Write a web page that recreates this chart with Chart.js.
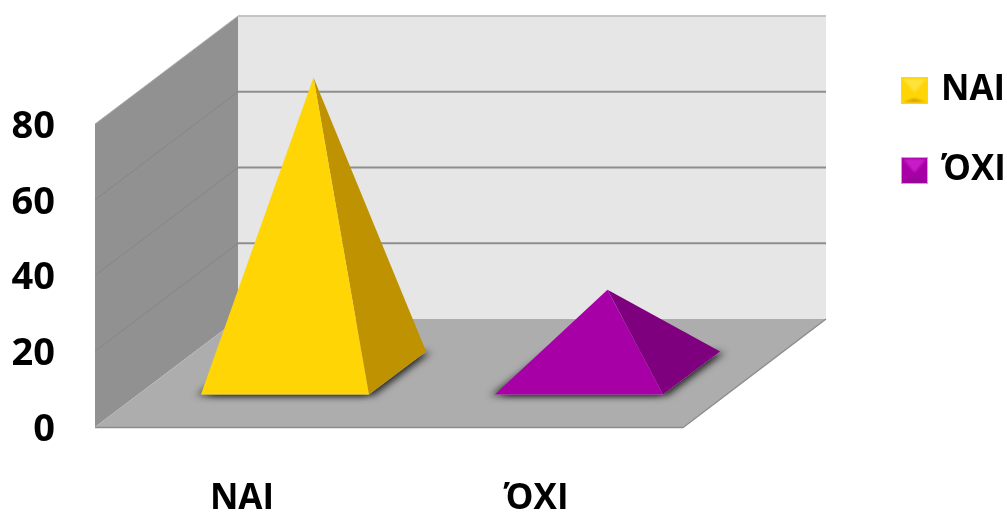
<!DOCTYPE html>
<html>
<head>
<meta charset="utf-8">
<style>
html,body{margin:0;padding:0;background:#fff;overflow:hidden}
#wrap{width:1007px;height:513px}
canvas{display:block;filter:blur(0.5px)}
</style>
<script src="https://cdn.jsdelivr.net/npm/chart.js@4/dist/chart.umd.js"></script>
</head>
<body>
<div id="wrap"><canvas id="c" width="1007" height="513"></canvas></div>
<script>
const categories = ["NAI", "ΌΧΙ"];
const values = [78, 22];
const frontColors = ["#FFD505", "#A600A6"];
const sideColors = ["#BE9200", "#7E007E"];
const iconLights = ["#FFE23A", "#C81CC8"];
const iconDarks = ["#CFA000", "#85108A"];
const yTickStep = 20;
const yMax = 80;

const FONT = "'Open Sans', sans-serif";
const DEPTH = {x: 143, y: -108};
const GAP = 0.3;

function makeIcon(i) {
  const s = 27, m = s / 2, c = document.createElement('canvas');
  c.width = s; c.height = s;
  const g = c.getContext('2d');
  const face = (col, pts) => {
    g.fillStyle = col; g.beginPath();
    pts.forEach((p, k) => k ? g.lineTo(p[0], p[1]) : g.moveTo(p[0], p[1]));
    g.closePath(); g.fill();
  };
  face(frontColors[i], [[0,0],[s,0],[s,s],[0,s]]);
  g.filter = 'blur(1px)';
  face(iconLights[i], [[2,2],[s-2,2],[m,m+2]]);
  face(iconDarks[i], [[2,s-2],[s-2,s-2],[m,m+8]]);
  g.filter = 'none';
  g.strokeStyle = 'rgba(205,205,205,0.8)';
  g.strokeRect(0.5, 0.5, s-1, s-1);
  return c;
}
const icons = categories.map((_, i) => makeIcon(i));

function poly(ctx, pts, fill) {
  ctx.beginPath();
  pts.forEach((p, k) => k ? ctx.lineTo(p[0], p[1]) : ctx.moveTo(p[0], p[1]));
  ctx.closePath();
  ctx.fillStyle = fill;
  ctx.fill();
}

const pyramidPlugin = {
  id: 'pyramid3d',
  beforeLayout(chart) {
    const l = chart.legend;
    if (l && !l._fixed) {
      const f = l.fit;
      l.fit = function () { f.call(this); this.width = 324; };
      l._fixed = true;
    }
  },
  afterLayout(chart) {
    const l = chart.legend;
    l.left = 905.5 - l.options.labels.padding;
    l.top = 28;
  },
  beforeDatasetsDraw(chart) {
    const ctx = chart.ctx, a = chart.chartArea, y = chart.scales.y;
    const dx = DEPTH.x, dy = DEPTH.y;
    const L = a.left, R = a.right, B = y.getPixelForValue(0), T = y.getPixelForValue(yMax);
    ctx.save();
    poly(ctx, [[L+dx,T+dy],[R+dx,T+dy],[R+dx,B+dy],[L+dx,B+dy]], '#E6E6E6');
    poly(ctx, [[L,T],[L+dx,T+dy],[L+dx,B+dy],[L,B]], '#919191');
    poly(ctx, [[L,B],[L+dx,B+dy],[R+dx,B+dy],[R,B]], '#ADADAD');
    y.ticks.forEach(t => {
      if (t.value === 0) return;
      const p = y.getPixelForValue(t.value);
      ctx.lineWidth = 2;
      ctx.strokeStyle = t.value === yMax ? '#C4C4C4' : '#8E8E8E';
      ctx.beginPath(); ctx.moveTo(L+dx, p+dy); ctx.lineTo(R+dx, p+dy); ctx.stroke();
      ctx.lineWidth = 1;
      ctx.strokeStyle = t.value === yMax ? '#B0B0B0' : '#858585';
      ctx.beginPath(); ctx.moveTo(L, p); ctx.lineTo(L+dx, p+dy); ctx.stroke();
    });
    ctx.lineWidth = 1.5;
    ctx.strokeStyle = '#8C8C8C';
    ctx.beginPath(); ctx.moveTo(L, B+0.5); ctx.lineTo(R, B+0.5); ctx.lineTo(R+dx, B+dy); ctx.stroke();

    chart.getDatasetMeta(0).data.forEach((el, i) => {
      const {x, y: top, base, width} = el.getProps(['x','y','base','width'], true);
      const fl = [x - width/2 + GAP*dx, base + GAP*dy];
      const fr = [x + width/2 + GAP*dx, base + GAP*dy];
      const br = [x + width/2 + (1-GAP)*dx, base + (1-GAP)*dy];
      const bl = [x - width/2 + (1-GAP)*dx, base + (1-GAP)*dy];
      const apex = [x + dx/2, top + dy/2];
      ctx.save();
      ctx.shadowColor = 'rgba(0,0,0,0.7)';
      ctx.shadowBlur = 7;
      ctx.shadowOffsetX = 5;
      ctx.shadowOffsetY = 1;
      poly(ctx, [fl, fr, br, bl], '#ADADAD');
      ctx.shadowOffsetX = -5;
      ctx.shadowColor = 'rgba(0,0,0,0.6)';
      poly(ctx, [fl, fr, br, bl], '#ADADAD');
      ctx.restore();
      poly(ctx, [fr, br, apex], sideColors[i]);
      poly(ctx, [fl, fr, apex], frontColors[i]);
    });
    ctx.restore();
  },
  beforeDatasetDraw() { return false; }
};

new Chart(document.getElementById('c'), {
  type: 'bar',
  plugins: [pyramidPlugin],
  data: {
    labels: categories,
    datasets: [{
      data: values,
      backgroundColor: frontColors,
      categoryPercentage: 1,
      barPercentage: 168 / 294
    }]
  },
  options: {
    responsive: false,
    animation: false,
    layout: {padding: {top: 124, left: 0, right: 0, bottom: 0}},
    plugins: {
      tooltip: {enabled: false},
      title: {display: false},
      legend: {
        display: true,
        position: 'right',
        align: 'start',
        labels: {
          usePointStyle: true,
          boxWidth: 18,
          boxHeight: 27,
          padding: 45,
          color: '#000',
          font: {family: FONT, size: 35, weight: 'bold', lineHeight: 1},
          generateLabels: () => categories.map((name, i) => ({
            text: name,
            fillStyle: frontColors[i],
            strokeStyle: frontColors[i],
            pointStyle: icons[i],
            lineWidth: 0,
            hidden: false,
            index: i,
            datasetIndex: 0
          }))
        }
      }
    },
    scales: {
      x: {
        afterFit(s) { s.height = 86; },
        grid: {display: false, drawTicks: false},
        border: {display: false},
        ticks: {
          color: '#000',
          padding: 55,
          maxRotation: 0,
          font: {family: FONT, size: 35, weight: 'bold', lineHeight: 1}
        }
      },
      y: {
        min: 0,
        max: yMax,
        afterFit(s) { s.width = 95; },
        grid: {display: false, drawTicks: false},
        border: {display: false},
        ticks: {
          stepSize: yTickStep,
          color: '#000',
          padding: 40,
          labelOffset: 3,
          font: {family: FONT, size: 38, weight: 'bold', lineHeight: 1}
        }
      }
    }
  }
});
</script>
</body>
</html>
